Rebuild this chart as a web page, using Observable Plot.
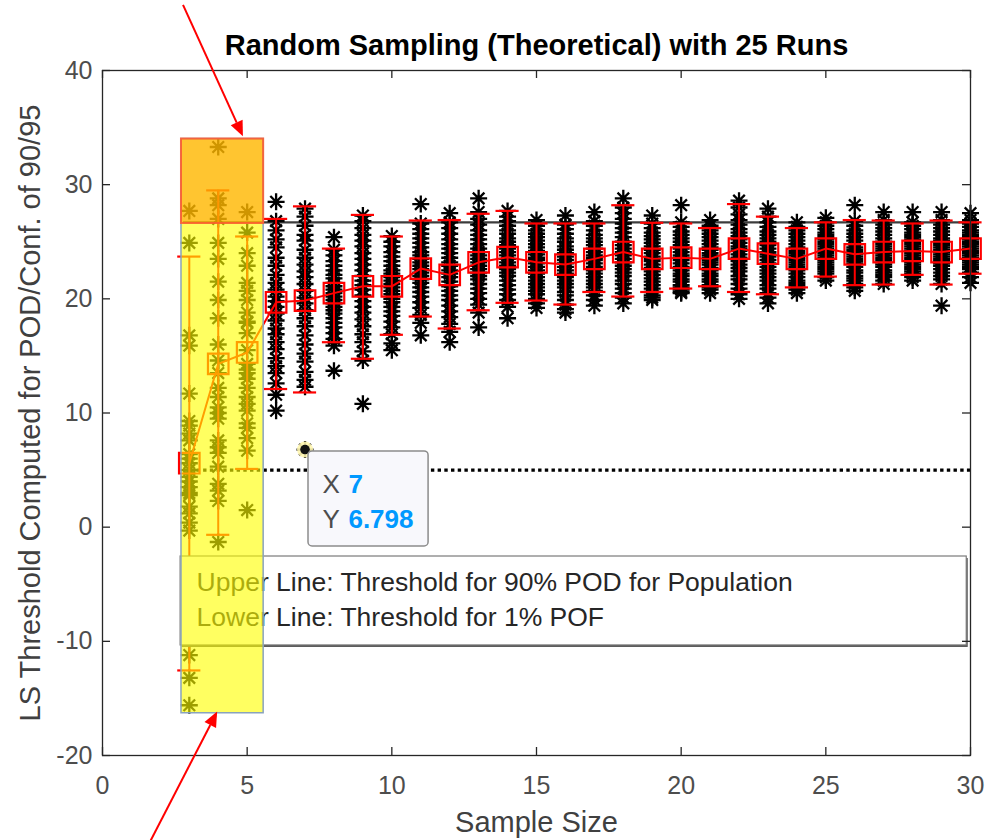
<!DOCTYPE html>
<html>
<head>
<meta charset="utf-8">
<script src="https://cdn.jsdelivr.net/npm/d3@7"></script>
<script src="https://cdn.jsdelivr.net/npm/@observablehq/plot@0.6"></script>
<style>
  html, body { margin: 0; padding: 0; background: #fff; }
  #chart svg { display: block; }
</style>
</head>
<body>
<div id="chart"></div>
<script>
// ---------- data ----------
const sampleSizes = [3,4,5,6,7,8,9,10,11,12,13,14,15,16,17,18,19,20,21,22,23,24,25,26,27,28,29,30];
const means   = [5.6,14.3,15.3,19.7,19.85,20.5,21.1,21.1,22.65,22.1,23.2,23.65,23.2,23.0,23.5,24.1,23.5,23.6,23.5,24.4,23.95,23.5,24.4,23.9,24.1,24.2,24.1,24.4];
const errHigh = [23.7,29.5,25.46,27.0,28.1,24.4,27.35,25.46,26.86,26.9,27.45,27.7,26.6,26.6,26.6,28.2,26.66,26.6,26.2,28.3,27.2,26.2,26.7,26.9,26.86,26.6,26.86,26.7];
const errLow  = [-12.55,-0.67,5.1,12.1,11.8,16.2,14.75,16.85,18.45,17.4,19.0,19.65,19.85,19.5,20.6,20.2,20.6,20.9,21.1,20.6,20.4,21.0,21.95,21.2,21.25,22.1,21.25,22.2];

// 25 runs per sample size
const runs = [
  [27.7,24.9,16.8,15.9,11.7,9.3,8.9,8.2,7.6,6.4,5.6,5.0,4.4,4.0,3.5,3.0,2.8,1.8,1.2,0.4,-0.3,-11.2,-13.2,-15.6,6.0],
  [33.3,28.8,28.2,27.0,24.9,23.5,19.9,18.3,14.6,12.2,11.4,10.5,10.0,7.6,6.5,3.8,3.2,2.3,-1.3,21.5,16.0,13.5,9.5,7.0,5.3],
  [27.6,25.8,22.9,21.4,20.7,19.9,18.8,17.9,17.0,14.3,13.5,13.0,12.2,11.4,10.2,9.1,8.7,7.8,6.7,1.5,24.0,18.0,15.5,13.8,10.8],
  [28.5,26.8,26.0,25.2,24.5,23.6,22.9,22.1,21.4,20.8,20.2,19.8,19.3,18.7,18.1,17.4,16.9,16.2,15.6,14.8,14.1,13.5,12.6,11.6,10.2],
  [27.9,27.2,26.4,25.6,25.1,24.3,23.6,23.0,22.4,21.9,21.3,20.7,20.1,19.6,19.0,18.3,17.6,16.8,16.0,15.2,14.5,13.6,12.9,12.3,6.8],
  [25.4,24.3,23.8,23.3,22.9,22.5,22.1,21.8,21.4,21.1,20.8,20.5,20.2,19.9,19.6,19.3,19.0,18.7,18.3,17.9,17.5,17.0,16.5,15.9,13.7],
  [27.3,26.8,26.2,25.6,25.1,24.6,24.0,23.5,23.0,22.5,22.0,21.6,21.2,20.8,20.3,19.8,19.3,18.8,18.2,17.6,16.9,16.2,15.4,14.6,10.8],
  [25.5,25.0,24.6,24.1,23.7,23.3,22.9,22.5,22.2,21.9,21.6,21.3,21.0,20.7,20.4,20.0,19.7,19.3,18.9,18.5,18.0,17.5,16.9,16.1,15.5],
  [28.3,26.6,26.1,25.7,25.3,24.9,24.5,24.1,23.8,23.5,23.2,22.9,22.6,22.3,22.0,21.7,21.4,21.0,20.6,20.2,19.7,19.2,18.6,17.9,16.8],
  [27.5,26.7,26.2,25.7,25.2,24.8,24.4,24.0,23.6,23.2,22.9,22.5,22.2,21.9,21.5,21.1,20.7,20.3,19.9,19.4,18.9,18.4,17.8,17.1,16.2],
  [28.8,27.6,27.0,26.5,26.0,25.6,25.2,24.8,24.4,24.1,23.8,23.5,23.2,22.9,22.6,22.3,22.0,21.7,21.3,20.9,20.5,20.0,19.5,18.8,17.5],
  [27.7,27.2,26.8,26.4,26.0,25.7,25.3,25.0,24.7,24.4,24.1,23.8,23.5,23.2,22.9,22.6,22.3,22.0,21.6,21.2,20.8,20.4,19.9,19.3,18.3],
  [26.9,26.4,26.0,25.7,25.4,25.1,24.8,24.5,24.2,23.9,23.6,23.4,23.1,22.8,22.5,22.2,21.9,21.6,21.3,21.0,20.7,20.4,20.0,19.6,19.2],
  [27.3,26.5,26.1,25.7,25.3,25.0,24.6,24.3,24.0,23.7,23.4,23.1,22.8,22.5,22.2,21.9,21.6,21.3,21.0,20.6,20.3,19.9,19.5,19.1,18.8],
  [27.6,26.8,26.4,26.0,25.6,25.3,25.0,24.7,24.4,24.1,23.8,23.6,23.4,23.1,22.8,22.5,22.2,21.9,21.6,21.3,21.0,20.7,20.3,19.9,19.4],
  [28.8,28.0,27.5,27.0,26.6,26.2,25.8,25.4,25.0,24.7,24.4,24.1,23.8,23.5,23.2,22.9,22.6,22.3,22.0,21.6,21.3,20.9,20.5,20.1,19.6],
  [27.3,26.6,26.2,25.8,25.5,25.2,24.9,24.6,24.3,24.0,23.7,23.5,23.3,23.0,22.7,22.4,22.1,21.8,21.5,21.2,20.9,20.6,20.3,20.1,19.9],
  [28.2,26.7,26.3,25.9,25.6,25.3,25.0,24.7,24.4,24.1,23.8,23.6,23.4,23.1,22.8,22.5,22.2,22.0,21.7,21.5,21.2,21.0,20.8,20.6,20.5],
  [26.9,26.4,26.0,25.7,25.4,25.1,24.8,24.5,24.3,24.0,23.8,23.6,23.4,23.2,23.0,22.7,22.5,22.2,22.0,21.7,21.5,21.2,21.0,20.8,20.5],
  [28.6,28.0,27.4,26.9,26.5,26.1,25.8,25.5,25.2,24.9,24.6,24.4,24.2,23.9,23.6,23.3,23.0,22.7,22.4,22.0,21.7,21.3,20.9,20.4,20.0],
  [27.9,27.2,26.7,26.3,25.9,25.6,25.3,25.0,24.7,24.4,24.1,23.9,23.7,23.4,23.1,22.8,22.5,22.2,21.9,21.6,21.2,20.9,20.5,20.1,19.6],
  [26.7,26.3,26.0,25.7,25.4,25.1,24.8,24.5,24.2,24.0,23.8,23.6,23.4,23.2,23.0,22.8,22.5,22.2,21.9,21.6,21.4,21.2,21.0,20.8,20.5],
  [27.1,26.7,26.4,26.1,25.8,25.6,25.4,25.2,25.0,24.8,24.6,24.4,24.2,24.0,23.8,23.6,23.4,23.2,23.0,22.8,22.6,22.4,22.2,21.9,21.6],
  [28.2,26.8,26.4,26.0,25.7,25.4,25.1,24.8,24.5,24.3,24.1,23.9,23.7,23.5,23.3,23.1,22.8,22.5,22.3,22.0,21.8,21.6,21.3,21.0,20.7],
  [27.6,26.9,26.5,26.2,25.9,25.6,25.3,25.0,24.8,24.6,24.4,24.2,24.0,23.8,23.6,23.4,23.2,23.0,22.8,22.5,22.3,22.1,21.9,21.6,21.3],
  [27.6,26.7,26.4,26.1,25.8,25.6,25.4,25.2,25.0,24.8,24.6,24.4,24.2,24.0,23.8,23.6,23.4,23.2,23.0,22.8,22.6,22.4,22.2,21.9,21.6],
  [27.6,26.9,26.5,26.2,25.9,25.6,25.3,25.1,24.9,24.7,24.5,24.3,24.1,23.9,23.7,23.5,23.3,23.1,22.9,22.6,22.3,22.0,21.7,21.3,19.4],
  [27.5,26.9,26.6,26.3,26.0,25.8,25.6,25.4,25.2,25.0,24.8,24.6,24.4,24.2,24.0,23.8,23.6,23.4,23.2,23.0,22.8,22.6,22.3,21.9,21.4]
];

const thresholdUpper = 26.7;   // 90% POD for population
const thresholdLower = 5.0;    // 1% POF
const thresholdSpan = [2.8, 30];

const xTicks = [0, 5, 10, 15, 20, 25, 30];
const yTicks = [-20, -10, 0, 10, 20, 30, 40];

const titleText = "Random Sampling (Theoretical) with 25 Runs";
const xLabel = "Sample Size";
const yLabel = "LS Threshold Computed for POD/Conf. of 90/95";
const legendLines = ["Upper Line: Threshold for 90% POD for Population", "Lower Line: Threshold for 1% POF"];

// annotations (data coordinates)
const highlight = {x1: 2.73, x2: 5.57, y1: -16.3, y2: 34.0};
const highlightTop = {x1: 2.73, x2: 5.57, y1: 26.6, y2: 34.0};
const legendBox = {x1: 2.7, x2: 29.87, y1: -10.36, y2: -2.57};
const legendTextPos = {x: 3.25, y: [-4.85, -7.9]};
const datatip = {x: 7, y: 6.798};
const datatipBox = {x1: 7.12, x2: 11.27, y1: -1.69, y2: 6.63};
const datatipText = {xKey: 7.6, xVal: 8.5, y: [3.74, 0.67], keys: ["X", "Y"], vals: ["7", "6.798"]};
const arrows = [
  {x1: 2.8, y1: 45.7, x2: 4.87, y2: 34.2},
  {x1: 1.66, y1: -27.6, x2: 3.98, y2: -16.2}
];

// ---------- derived tables ----------
const stats = sampleSizes.map((n, i) => ({n, mean: means[i], lo: errLow[i], hi: errHigh[i]}));
const stars = sampleSizes.flatMap((n, i) => runs[i].map(v => ({n, v})));

const asterisk = {
  draw(ctx, size) {
    const r = Math.sqrt(size / Math.PI);
    const d = r * 0.68;
    ctx.moveTo(-r, 0); ctx.lineTo(r, 0);
    ctx.moveTo(0, -r); ctx.lineTo(0, r);
    ctx.moveTo(-d, -d); ctx.lineTo(d, d);
    ctx.moveTo(-d, d); ctx.lineTo(d, -d);
  }
};

const W = 987, H = 840;
const mL = 102, mR = 17, mT = 70, mB = 85;
const frameW = W - mL - mR, frameH = H - mT - mB;
const tickLen = 8;
const FONT = "'Liberation Sans', Arial, Helvetica, sans-serif";
const capHalf = 0.4;

const chart = Plot.plot({
  width: W, height: H,
  marginLeft: mL, marginRight: mR, marginTop: mT, marginBottom: mB,
  style: {fontFamily: FONT, background: "#fff", overflow: "visible"},
  x: {domain: [0, 30], axis: null},
  y: {domain: [-20, 40], axis: null},
  marks: [
    // threshold lines
    Plot.ruleY([thresholdUpper], {x1: thresholdSpan[0], x2: thresholdSpan[1], stroke: "#3c3c3c", strokeWidth: 2.2}),
    Plot.ruleY([thresholdLower], {x1: thresholdSpan[0], x2: thresholdSpan[1], stroke: "#000", strokeWidth: 3.4, strokeDasharray: "3.4 3.3"}),
    // individual runs
    Plot.dot(stars, {x: "n", y: "v", symbol: asterisk, r: 8.5, stroke: "#000", strokeWidth: 2.3, fill: "none"}),
    // error bars
    Plot.ruleX(stats, {x: "n", y1: "lo", y2: "hi", stroke: "#ff0000", strokeWidth: 2}),
    Plot.ruleY(stats, {y: "hi", x1: d => d.n - capHalf, x2: d => d.n + capHalf, stroke: "#ff0000", strokeWidth: 2.2}),
    Plot.ruleY(stats, {y: "lo", x1: d => d.n - capHalf, x2: d => d.n + capHalf, stroke: "#ff0000", strokeWidth: 2.2}),
    // mean line + squares
    Plot.line(stats, {x: "n", y: "mean", stroke: "#ff0000", strokeWidth: 2}),
    Plot.dot(stats, {x: "n", y: "mean", symbol: "square", r: 11.6, stroke: "#ff0000", strokeWidth: 2.2, fill: "none"}),
    // legend textbox
    Plot.rect([legendBox], {x1: "x1", x2: "x2", y1: "y1", y2: "y2", fill: "#555", dx: 1.5, dy: 2}),
    Plot.rect([legendBox], {x1: "x1", x2: "x2", y1: "y1", y2: "y2", fill: "#fff", stroke: "#7a7a7a", strokeWidth: 1.2}),
    Plot.text(legendLines, {x: legendTextPos.x, y: (d, i) => legendTextPos.y[i], text: d => d, textAnchor: "start", lineAnchor: "middle", fontSize: 26.5, fill: "#262626"}),
    // highlighted region
    Plot.rect([highlight], {x1: "x1", x2: "x2", y1: "y1", y2: "y2", fill: "#ffff00", fillOpacity: 0.62, stroke: "#8aa3bd", strokeWidth: 1.5}),
    Plot.rect([highlightTop], {x1: "x1", x2: "x2", y1: "y1", y2: "y2", fill: "#ff8c00", fillOpacity: 0.5, stroke: "#ff5a30", strokeWidth: 2, strokeOpacity: 0.85}),
    // datatip
    Plot.dot([datatip], {x: "x", y: "y", r: 8, fill: "#fff6b0", fillOpacity: 0.9}),
    Plot.dot([datatip], {x: "x", y: "y", r: 4.8, fill: "#111"}),
    Plot.rect([datatipBox], {x1: "x1", x2: "x2", y1: "y1", y2: "y2", fill: "#f8f8fc", stroke: "#8c8c8c", strokeWidth: 1.5, rx: 4}),
    Plot.text(datatipText.keys, {x: datatipText.xKey, y: (d, i) => datatipText.y[i], text: d => d, textAnchor: "start", lineAnchor: "middle", fontSize: 26, fill: "#4d4d4d"}),
    Plot.text(datatipText.vals, {x: datatipText.xVal, y: (d, i) => datatipText.y[i], text: d => d, textAnchor: "start", lineAnchor: "middle", fontSize: 26, fontWeight: "bold", fill: "#0099ff"}),
    // axes box & inward ticks on all four sides
    Plot.frame({stroke: "#262626", strokeWidth: 1.3}),
    Plot.tickX(xTicks, {x: d => d, insetTop: frameH - tickLen, stroke: "#262626", strokeWidth: 1.3}),
    Plot.tickX(xTicks, {x: d => d, insetBottom: frameH - tickLen, stroke: "#262626", strokeWidth: 1.3}),
    Plot.tickY(yTicks, {y: d => d, insetRight: frameW - tickLen, stroke: "#262626", strokeWidth: 1.3}),
    Plot.tickY(yTicks, {y: d => d, insetLeft: frameW - tickLen, stroke: "#262626", strokeWidth: 1.3}),
    // tick labels
    Plot.text(xTicks, {x: d => d, frameAnchor: "bottom", lineAnchor: "middle", textAnchor: "middle", dy: 30, text: d => String(d), fontSize: 25, fill: "#4d4d4d"}),
    Plot.text(yTicks, {y: d => d, frameAnchor: "left", lineAnchor: "middle", textAnchor: "end", dx: -10, text: d => String(d), fontSize: 25, fill: "#4d4d4d"}),
    // title & axis labels
    Plot.text([titleText], {frameAnchor: "top", lineAnchor: "middle", textAnchor: "middle", dy: -25, text: d => d, fontSize: 29, fontWeight: "bold", fill: "#000"}),
    Plot.text([xLabel], {frameAnchor: "bottom", lineAnchor: "middle", textAnchor: "middle", dy: 67, text: d => d, fontSize: 29, fill: "#404040"}),
    Plot.text([yLabel], {frameAnchor: "left", lineAnchor: "middle", textAnchor: "middle", dx: -72, rotate: -90, text: d => d, fontSize: 29, fill: "#404040"})
  ]
});

// red annotation arrows drawn through the chart's own scales
const sx = chart.scale("x"), sy = chart.scale("y");
const svg = d3.select(chart);
const g = svg.append("g");
for (const a of arrows) {
  const p1 = [sx.apply(a.x1), sy.apply(a.y1)];
  const p2 = [sx.apply(a.x2), sy.apply(a.y2)];
  const dx = p2[0] - p1[0], dy = p2[1] - p1[1];
  const len = Math.hypot(dx, dy);
  const ux = dx / len, uy = dy / len;
  const headL = 15, headW = 6.5;
  const bx = p2[0] - ux * headL, by = p2[1] - uy * headL;
  g.append("line").attr("x1", p1[0]).attr("y1", p1[1]).attr("x2", bx).attr("y2", by)
    .attr("stroke", "#ff0000").attr("stroke-width", 2);
  g.append("polygon")
    .attr("points", [[p2[0], p2[1]], [bx - uy * headW, by + ux * headW], [bx + uy * headW, by - ux * headW]].map(p => p.join(",")).join(" "))
    .attr("fill", "#ff0000");
}

document.getElementById("chart").append(chart);
</script>
</body>
</html>
